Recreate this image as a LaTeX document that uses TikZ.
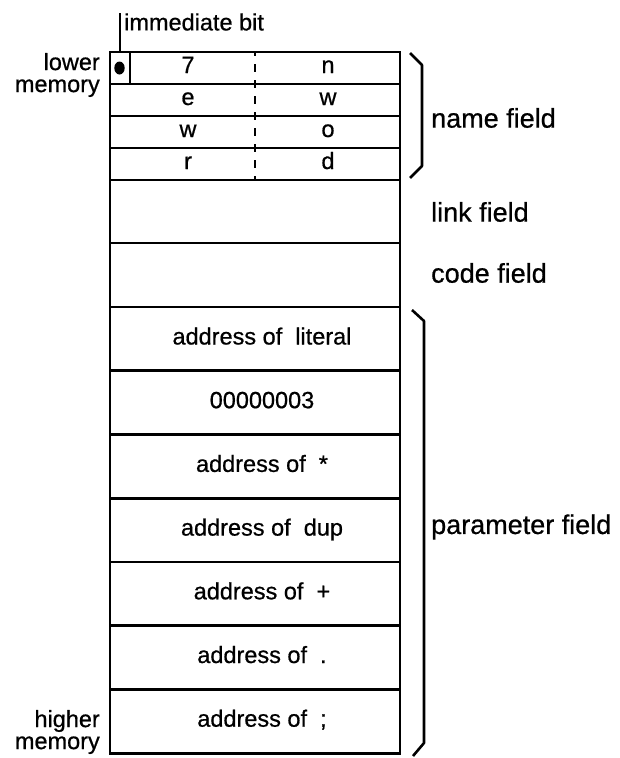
\documentclass[tikz,border=0pt]{standalone}
\usepackage{fontspec}
\setmainfont{Liberation Sans}[FakeBold=0.7]
\usetikzlibrary{positioning}

\begin{document}
\begin{tikzpicture}[x=1pt, y=-1pt,
    cell/.style={draw, line width=2.6pt, minimum width=290pt, minimum height=#1, inner sep=0pt},
    boxtext/.style={inner sep=0pt, anchor=base, font=\fontsize{23.5}{26}\selectfont},
    sidetext/.style={inner sep=0pt, anchor=west, font=\fontsize{27}{30}\selectfont},
    memtext/.style={inner sep=0pt, align=right, anchor=east, font=\fontsize{23.5}{22}\selectfont},
    brace/.style={line width=2.6pt, line join=round}]

\useasboundingbox (0,0) rectangle (620,758);

% Name field: four half-height rows, two characters each
\foreach \i/\l/\r in {0/7/n, 1/e/w, 2/w/o, 3/r/d} {
    \node[cell=32pt] (name\i) at (255, 68+32*\i) {};
    \node[boxtext] (chl\i) at (188, 73+32*\i) {\l};
    \node[boxtext] (chr\i) at (328, 73+32*\i) {\r};
}
\draw[line width=1.8pt, dash pattern=on 8pt off 8pt, dash phase=4pt] (255,52) -- (255,180);

% Immediate bit
\node[draw, line width=1.8pt, minimum width=20pt, minimum height=32pt, inner sep=0pt] (bit) at (120,68) {};
\fill (119.5,68) ellipse (5.2pt and 6.5pt);
\node[boxtext, anchor=west] (imm) at (124,22) {immediate bit};
\draw[line width=1.5pt] (bit.north) -- (bit.north |- imm.north);

% Link and code fields
\node[cell=63pt] (link) at (255, 211.5) {};
\node[cell=64pt] (code) at (255, 275) {};

% Parameter field
\foreach \t [count=\k from 0] in {address of\ \ literal, 00000003, address of\ \ *, address of\ \ dup,
                                  address of\ \ +, address of\ \ ., address of\ \ ;} {
    \node[cell=64pt] (par\k) at (255, 339+63.7*\k) {};
    \node[boxtext] (val\k) at (262, 344.5+63.7*\k) {\t};
}

% Braces
\draw[brace] (410,53) -- (422,65) -- (422,166) -- (410,178);
\draw[brace] (412,310) -- (424,321) -- (424,743) -- (413,756);

% Field labels
\node[sidetext] (namelbl) at (431,118) {name field};
\node[sidetext] (linklbl) at (431,212) {link field};
\node[sidetext] (codelbl) at (431,273) {code field};
\node[sidetext] (parlbl) at (431,527) {parameter field};

% Memory direction
\node[memtext] (lower) at (100,75) {lower\\memory};
\node[memtext] (higher) at (100,732) {higher\\memory};

\end{tikzpicture}
\end{document}
